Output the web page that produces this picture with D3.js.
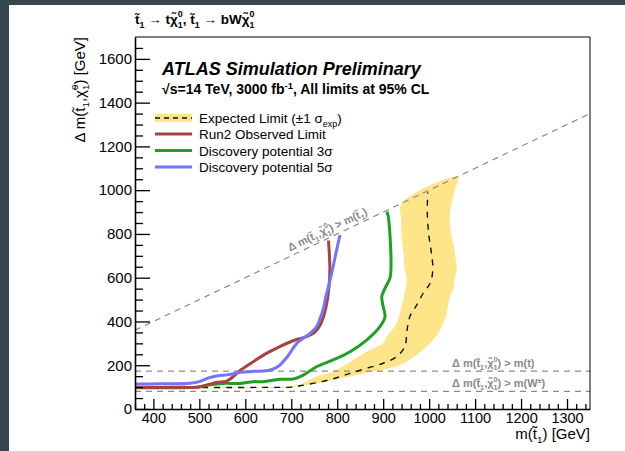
<!DOCTYPE html>
<html>
<head>
<meta charset="utf-8">
<script src="https://cdn.jsdelivr.net/npm/d3@7/dist/d3.min.js"></script>
<style>
  html, body { margin: 0; padding: 0; background: #37474f; }
  svg { display: block; }
  text { font-family: "Liberation Sans", Arial, Helvetica, sans-serif; }
</style>
</head>
<body>
<svg id="chart" width="625" height="451"></svg>
<script>
// ---- data: stop mass m(t1) [GeV] and mass splitting Δm(t1, χ1) [GeV] ----
const xMajorTicks = [400, 500, 600, 700, 800, 900, 1000, 1100, 1200, 1300];
const yMajorTicks = [0, 200, 400, 600, 800, 1000, 1200, 1400, 1600];

// Discovery potential 5σ
const blueM  = [360, 420, 480, 500, 520, 540, 560, 590, 620, 655, 672, 692, 712, 741, 755, 762, 770, 776, 781, 790, 798, 806];
const blueDm = [114, 115, 118, 125, 142, 152, 156, 168, 172, 178, 195, 240, 300, 346, 376, 410, 460, 520, 560, 640, 720, 795];

// Run2 observed limit
const redM  = [360, 450, 500, 520, 540, 558, 575, 590, 617, 646, 675, 704, 733, 752, 762, 770, 776, 780, 783, 784, 783, 781];
const redDm = [99, 99, 101, 112, 122, 126, 150, 178, 216, 254, 285, 312, 331, 353, 380, 420, 470, 520, 580, 640, 700, 770];

// Discovery potential 3σ
const greenM  = [360, 450, 494, 520, 552, 588, 617, 638, 675, 704, 726, 755, 791, 828, 864, 893, 904, 900, 897, 904, 915, 917, 915, 911, 908];
const greenDm = [97, 97, 100, 110, 117, 117, 125, 125, 136, 137, 155, 193, 224, 262, 315, 376, 422, 468, 513, 552, 600, 650, 788, 880, 902];

// Expected limit (central)
const expM  = [480, 560, 640, 700, 719, 755, 791, 828, 864, 900, 929, 947, 952, 958, 973, 987, 1002, 1008, 1005, 999, 996, 997];
const expDm = [98, 98, 99, 100, 106, 120, 138, 163, 186, 209, 239, 285, 361, 422, 475, 529, 575, 635, 712, 800, 900, 990];

// Expected ±1σ band: upper-left edge (bottom to top), then lower-right edge (top to bottom)
const bandUpM  = [500, 600, 700, 719, 755, 791, 828, 864, 900, 908, 929, 940, 947, 951, 947, 944, 940, 939, 940];
const bandUpDm = [97, 99, 104, 112, 148, 170, 216, 262, 300, 331, 392, 468, 529, 590, 635, 712, 788, 864, 940];
const bandLoM  = [1063, 1056, 1049, 1045, 1049, 1056, 1060, 1055, 1053, 1045, 1038, 1024, 1002, 973, 937, 900, 864, 828, 791, 755, 719, 700, 600, 500];
const bandLoDm = [1062, 1001, 940, 864, 788, 712, 635, 590, 552, 513, 437, 361, 300, 247, 201, 181, 166, 148, 133, 117, 105, 98, 95, 95];

// Kinematic boundaries
const diagM = [360, 1350];          // Δm = m(t1)
const mTop = 173;                   // m(t)
const mW = 80.4;                    // m(W)

const legendLabels = ["Expected Limit", "Run2 Observed Limit", "Discovery potential 3\u03c3", "Discovery potential 5\u03c3"];

// ---- colours ----
const colBand = "#fee58a", colRed = "#a5443f", colGreen = "#20a020", colBlue = "#7474ff", colGrey = "#8a8a8a";

const svg = d3.select("#chart");
svg.append("rect").attr("x", 9).attr("y", 5).attr("width", 616).attr("height", 446).attr("fill", "#fff");

const x = d3.scaleLinear().domain([360, 1350]).range([135, 590]);
const y = d3.scaleLinear().domain([0, 1700]).range([409, 37]);

svg.append("defs").append("clipPath").attr("id", "plotclip")
  .append("rect").attr("x", x.range()[0]).attr("y", y.range()[1])
  .attr("width", x.range()[1] - x.range()[0]).attr("height", y.range()[0] - y.range()[1]);

const plot = svg.append("g").attr("clip-path", "url(#plotclip)");
const zip = (a, b) => a.map((v, i) => [v, b[i]]);
const line = d3.line().x(d => x(d[0])).y(d => y(d[1])).curve(d3.curveCatmullRom.alpha(0.5));

// rich text helper: parts = [text] | [text,"sub"] | [text,"sup"] | [[sub,sup],"ss"]
function rich(t, parts, size) {
  let shift = 0;
  parts.forEach(([txt, kind]) => {
    if (kind === "ss") {
      const s = size * 0.66;
      t.append("tspan").attr("dy", 0.28 * size - shift).attr("font-size", s).text(txt[0]);
      t.append("tspan").attr("dx", -0.556 * s * txt[0].length).attr("dy", -0.78 * size).attr("font-size", s).text(txt[1]);
      shift = -0.5 * size;
    } else if (kind === "sub") {
      const s = size * 0.66;
      t.append("tspan").attr("dy", 0.28 * size - shift).attr("font-size", s).text(txt);
      shift = 0.28 * size;
    } else if (kind === "sup") {
      const s = size * 0.66;
      t.append("tspan").attr("dy", -0.4 * size - shift).attr("font-size", s).text(txt);
      shift = -0.4 * size;
    } else {
      t.append("tspan").attr("dy", -shift).text(txt);
      shift = 0;
    }
  });
  return t;
}
const T = "t\u0303", CHI = "\u03c7\u0303";

// band
const bandPts = zip(bandUpM, bandUpDm).concat(zip(bandLoM, bandLoDm));
plot.append("path").attr("d", line(bandPts) + "Z").attr("fill", colBand).attr("stroke", "none");

// kinematic dashed lines
plot.append("line").attr("x1", x(diagM[0])).attr("y1", y(diagM[0])).attr("x2", x(diagM[1])).attr("y2", y(diagM[1]))
  .attr("stroke", colGrey).attr("stroke-width", 1.2).attr("stroke-dasharray", "6,5");
[mTop, mW].forEach(v => plot.append("line").attr("x1", x(360)).attr("x2", x(1350)).attr("y1", y(v)).attr("y2", y(v))
  .attr("stroke", colGrey).attr("stroke-width", 1.2).attr("stroke-dasharray", "6,5"));

// expected line
plot.append("path").attr("d", line(zip(expM, expDm))).attr("fill", "none").attr("stroke", "#111")
  .attr("stroke-width", 1.4).attr("stroke-dasharray", "6,6");

// observed and discovery lines
[[greenM, greenDm, colGreen], [redM, redDm, colRed], [blueM, blueDm, colBlue]].forEach(([m, d, c]) => {
  plot.append("path").attr("d", line(zip(m, d))).attr("fill", "none").attr("stroke", c)
    .attr("stroke-width", 3).attr("stroke-linejoin", "round");
});

// kinematic labels
const lblSize = 11;
const ang = Math.atan2(y(1000) - y(600), x(1000) - x(600)) * 180 / Math.PI;
rich(svg.append("text").attr("transform", `translate(${x(697)},${y(697) - 5}) rotate(${ang})`)
  .attr("font-size", lblSize).attr("font-weight", "bold").attr("fill", colGrey),
  [["\u0394 m(" + T], ["1", "sub"], ["," + CHI], [["1", "0"], "ss"], [") > m(" + T], ["1", "sub"], [")"]], lblSize);
rich(svg.append("text").attr("x", 452).attr("y", y(mTop) - 4).attr("font-size", lblSize).attr("font-weight", "bold").attr("fill", colGrey),
  [["\u0394 m(" + T], ["1", "sub"], ["," + CHI], [["1", "0"], "ss"], [") > m(t)"]], lblSize);
rich(svg.append("text").attr("x", 452).attr("y", y(mW) - 4).attr("font-size", lblSize).attr("font-weight", "bold").attr("fill", colGrey),
  [["\u0394 m(" + T], ["1", "sub"], ["," + CHI], [["1", "0"], "ss"], [") > m(W"], ["\u00b1", "sup"], [")"]], lblSize);

// axes
const fmt = d3.format("d");
const xAxis = svg.append("g").attr("transform", `translate(0,${y(0)})`)
  .call(d3.axisBottom(x).tickValues(xMajorTicks).tickFormat(fmt).tickSize(-10).tickSizeOuter(0).tickPadding(4));
svg.append("g").attr("transform", `translate(0,${y(0)})`)
  .call(d3.axisBottom(x).tickValues(d3.range(360, 1351, 20).filter(v => v % 100 !== 0)).tickSize(-5).tickFormat("").tickSizeOuter(0))
  .call(g => g.select(".domain").remove());
const yAxis = svg.append("g").attr("transform", `translate(${x(360)},0)`)
  .call(d3.axisLeft(y).tickValues(yMajorTicks).tickFormat(fmt).tickSize(-15).tickSizeOuter(0).tickPadding(3));
svg.append("g").attr("transform", `translate(${x(360)},0)`)
  .call(d3.axisLeft(y).tickValues(d3.range(50, 1700, 50).filter(v => v % 200 !== 0)).tickSize(-8).tickFormat("").tickSizeOuter(0))
  .call(g => g.select(".domain").remove());
[xAxis, yAxis].forEach(g => {
  g.selectAll("text").attr("fill", "#000").attr("font-family", "Liberation Sans, Arial, sans-serif");
  g.select(".domain").attr("stroke", "#000").attr("stroke-width", 1.6);
});
xAxis.selectAll("text").attr("font-size", 14.5);
yAxis.selectAll("text").attr("font-size", 15);
svg.selectAll(".tick line").attr("stroke", "#000").attr("stroke-width", 1.3);

// frame top and right
svg.append("path").attr("d", `M${x(360)},${y(1700)}H${x(1350)}V${y(0)}`).attr("fill", "none").attr("stroke", "#000").attr("stroke-width", 1);

// axis titles
rich(svg.append("text").attr("x", 590).attr("y", 439).attr("text-anchor", "end").attr("font-size", 15),
  [["m(" + T], ["1", "sub"], [") [GeV]"]], 15);
rich(svg.append("text").attr("transform", "translate(85,37) rotate(-90)").attr("text-anchor", "end").attr("font-size", 15),
  [["\u0394 m(" + T], ["1", "sub"], ["," + CHI], [["1", "0"], "ss"], [") [GeV]"]], 15);

// header
rich(svg.append("text").attr("x", 135).attr("y", 24).attr("font-size", 13.5).attr("font-weight", "bold"),
  [[T], ["1", "sub"], [" \u2192 t" + CHI], [["1", "0"], "ss"], [", " + T], ["1", "sub"], [" \u2192 bW" + CHI], [["1", "0"], "ss"]], 13.5);

svg.append("text").attr("x", 162).attr("y", 75).attr("font-size", 18).attr("font-weight", "bold").attr("font-style", "italic")
  .text("ATLAS Simulation Preliminary");
const sub2 = svg.append("text").attr("x", 162).attr("y", 94).attr("font-size", 14).attr("font-weight", "bold");
sub2.append("tspan").text("\u221as=14 TeV, 3000 fb");
sub2.append("tspan").attr("dy", -5).attr("font-size", 9.5).text("-1");
sub2.append("tspan").attr("dy", 5).text(", All limits at 95% CL");

// legend
const lg = svg.append("g");
const rowY = [118, 134, 150.5, 167];
lg.append("rect").attr("x", 155).attr("y", rowY[0] - 4).attr("width", 37).attr("height", 8).attr("fill", colBand);
lg.append("line").attr("x1", 155).attr("x2", 192).attr("y1", rowY[0]).attr("y2", rowY[0]).attr("stroke", "#111")
  .attr("stroke-width", 1.4).attr("stroke-dasharray", "5,4");
[colRed, colGreen, colBlue].forEach((c, i) => lg.append("line").attr("x1", 155).attr("x2", 192)
  .attr("y1", rowY[i + 1]).attr("y2", rowY[i + 1]).attr("stroke", c).attr("stroke-width", 3));
legendLabels.forEach((s, i) => {
  const t = lg.append("text").attr("x", 199).attr("y", rowY[i] + 5).attr("font-size", 13.5);
  if (i === 0) rich(t, [[s + " (\u00b11 \u03c3"], ["exp", "sub"], [")"]], 13.5);
  else t.text(s);
});
</script>
</body>
</html>
